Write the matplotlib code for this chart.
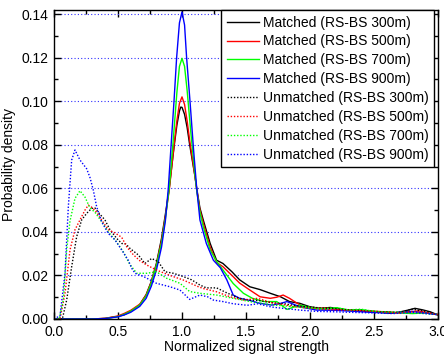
"""Probability density of normalized signal strength, matched vs unmatched RS-BS pairs."""
import matplotlib
matplotlib.use("Agg")
import matplotlib.pyplot as plt
from matplotlib.ticker import MultipleLocator

plt.rcParams["font.family"] = ["Liberation Sans", "DejaVu Sans"]
plt.rcParams["font.size"] = 10

DISTANCES = ["300m", "500m", "700m", "900m"]
COLORS = ["black", "red", "#00ff00", "blue"]

# matched curves (solid)
m300_x = [0.0, 0.3, 0.4, 0.5, 0.55, 0.6, 0.67, 0.72, 0.76, 0.8, 0.84, 0.87, 0.9, 0.92, 0.94, 0.96, 0.98, 0.99,
          1.0, 1.02, 1.04, 1.06, 1.08, 1.1, 1.115, 1.14, 1.166, 1.22, 1.27, 1.32, 1.39, 1.45, 1.53, 1.61, 1.69,
          1.77, 1.84, 1.92, 2.0, 2.08, 2.16, 2.24, 2.32, 2.4, 2.47, 2.55, 2.63, 2.7, 2.76, 2.82, 2.88, 2.94, 3.0]
m300_y = [0.0, 0.0, 0.0003, 0.0012, 0.002, 0.0036, 0.0066, 0.0112, 0.0172, 0.0255, 0.037, 0.048, 0.06, 0.07,
          0.08, 0.089, 0.0955, 0.0973, 0.0972, 0.094, 0.088, 0.08, 0.073, 0.066, 0.06, 0.051, 0.0455, 0.0347,
          0.027, 0.0255, 0.0217, 0.018, 0.0148, 0.0135, 0.0118, 0.0102, 0.008, 0.0072, 0.0056, 0.0049, 0.0053,
          0.0045, 0.0041, 0.0037, 0.0033, 0.003, 0.0026, 0.0032, 0.004, 0.0049, 0.0042, 0.0033, 0.0018]

m500_x = [0.0, 0.3, 0.4, 0.5, 0.55, 0.6, 0.67, 0.72, 0.76, 0.8, 0.84, 0.87, 0.9, 0.92, 0.94, 0.96, 0.98, 1.0,
          1.02, 1.04, 1.06, 1.08, 1.1, 1.115, 1.14, 1.166, 1.22, 1.27, 1.32, 1.39, 1.45, 1.53, 1.61, 1.69, 1.74,
          1.79, 1.84, 1.9, 1.95, 2.05, 2.12, 2.2, 2.3, 2.4, 2.5, 2.6, 2.7, 2.8, 2.85, 2.9, 3.0]
m500_y = [0.0, 0.0, 0.0003, 0.0014, 0.0026, 0.004, 0.0068, 0.011, 0.017, 0.025, 0.036, 0.047, 0.059, 0.07,
          0.081, 0.091, 0.099, 0.102, 0.0985, 0.091, 0.082, 0.074, 0.066, 0.0595, 0.05, 0.044, 0.033, 0.026,
          0.024, 0.02, 0.0165, 0.0133, 0.0102, 0.0095, 0.01, 0.011, 0.0095, 0.0072, 0.0056, 0.0049, 0.005,
          0.0045, 0.004, 0.0038, 0.0035, 0.0033, 0.0028, 0.0033, 0.0038, 0.003, 0.002]

m700_x = [0.0, 0.3, 0.4, 0.5, 0.55, 0.6, 0.67, 0.72, 0.76, 0.8, 0.84, 0.87, 0.9, 0.93, 0.96, 0.98, 1.0, 1.02,
          1.04, 1.07, 1.1, 1.115, 1.14, 1.166, 1.22, 1.27, 1.32, 1.4, 1.48, 1.55, 1.64, 1.74, 1.82, 1.92, 2.03,
          2.12, 2.21, 2.3, 2.4, 2.5, 2.6, 2.7, 2.8, 2.9, 3.0]
m700_y = [0.0, 0.0, 0.0002, 0.0011, 0.0022, 0.0036, 0.0064, 0.0105, 0.0165, 0.0245, 0.035, 0.046, 0.06,
          0.081, 0.104, 0.116, 0.1197, 0.116, 0.105, 0.085, 0.067, 0.059, 0.049, 0.0424, 0.0317, 0.0265,
          0.0225, 0.0163, 0.0118, 0.0095, 0.008, 0.008, 0.0044, 0.0064, 0.0049, 0.0045, 0.0052, 0.004, 0.0043,
          0.0035, 0.0032, 0.0028, 0.0025, 0.0028, 0.002]

m900_x = [0.0, 0.3, 0.4, 0.5, 0.55, 0.6, 0.67, 0.72, 0.76, 0.8, 0.84, 0.87, 0.893, 0.915, 0.9375, 0.958, 0.98,
          1.0, 1.02, 1.036, 1.0625, 1.09, 1.115, 1.14, 1.19, 1.245, 1.3, 1.35, 1.4, 1.45, 1.53, 1.61, 1.7,
          1.76, 1.82, 1.92, 2.05, 2.2, 2.35, 2.5, 2.65, 2.8, 2.9, 3.0]
m900_y = [0.0, 0.0, 0.0002, 0.001, 0.0019, 0.0031, 0.0058, 0.0095, 0.015, 0.0225, 0.033, 0.045, 0.06, 0.08,
          0.1, 0.12, 0.136, 0.141, 0.135, 0.12, 0.1, 0.078, 0.06, 0.0455, 0.0347, 0.027, 0.0235, 0.018, 0.011,
          0.0095, 0.0085, 0.0072, 0.0064, 0.007, 0.008, 0.0056, 0.0041, 0.004, 0.0035, 0.003, 0.0028, 0.0035,
          0.0028, 0.002]

# unmatched curves (dotted)
u300_x = [0.0, 0.065, 0.099, 0.138, 0.177, 0.216, 0.255, 0.294, 0.32, 0.346, 0.398, 0.437, 0.49, 0.529, 0.56,
          0.594, 0.659, 0.71, 0.763, 0.815, 0.867, 0.932, 1.01, 1.075, 1.14, 1.19, 1.27, 1.35, 1.45, 1.53, 1.6,
          1.7, 1.8, 1.9, 2.0, 2.1, 2.2, 2.3, 2.4, 2.5, 2.6, 2.7, 2.8, 2.9, 3.0]
u300_y = [0.0, 0.0, 0.0087, 0.024, 0.0378, 0.0455, 0.0485, 0.0508, 0.051, 0.049, 0.0455, 0.041, 0.037,
          0.0347, 0.0345, 0.0324, 0.0294, 0.0255, 0.0278, 0.0263, 0.0217, 0.021, 0.0195, 0.018, 0.0156, 0.0143,
          0.0143, 0.012, 0.0095, 0.0087, 0.0085, 0.0075, 0.007, 0.006, 0.0055, 0.005, 0.0048, 0.0042, 0.004,
          0.0035, 0.0032, 0.003, 0.0045, 0.0035, 0.002]

u500_x = [0.0, 0.047, 0.086, 0.125, 0.164, 0.203, 0.242, 0.268, 0.29, 0.32, 0.372, 0.424, 0.477, 0.529, 0.57,
          0.62, 0.67, 0.724, 0.8, 0.906, 1.01, 1.12, 1.166, 1.27, 1.375, 1.48, 1.59, 1.7, 1.8, 1.9, 2.0, 2.1,
          2.2, 2.3, 2.4, 2.5, 2.6, 2.7, 2.8, 2.9, 3.0]
u500_y = [0.0, 0.0, 0.0118, 0.0317, 0.041, 0.0455, 0.05, 0.0523, 0.0515, 0.05, 0.0455, 0.041, 0.0395,
          0.0375, 0.033, 0.0295, 0.0268, 0.0248, 0.0225, 0.02, 0.0179, 0.015, 0.014, 0.0125, 0.0102, 0.0087,
          0.0095, 0.0075, 0.0065, 0.0055, 0.005, 0.0045, 0.0042, 0.004, 0.0038, 0.0035, 0.003, 0.0028, 0.0035,
          0.003, 0.002]

u700_x = [0.0, 0.04, 0.073, 0.099, 0.125, 0.164, 0.203, 0.242, 0.281, 0.32, 0.372, 0.424, 0.477, 0.54, 0.59,
          0.646, 0.724, 0.8, 0.88, 0.984, 1.06, 1.14, 1.27, 1.4, 1.53, 1.62, 1.7, 1.8, 1.9, 2.0, 2.1, 2.2, 2.3,
          2.4, 2.5, 2.6, 2.7, 2.8, 2.9, 3.0]
u700_y = [0.0, 0.0, 0.0087, 0.0317, 0.045, 0.0554, 0.0589, 0.056, 0.051, 0.049, 0.0447, 0.04, 0.0363, 0.031,
          0.0253, 0.021, 0.021, 0.0217, 0.0187, 0.0164, 0.0126, 0.0118, 0.011, 0.0095, 0.008, 0.0072, 0.0065,
          0.006, 0.0055, 0.005, 0.0048, 0.0052, 0.0042, 0.0045, 0.0035, 0.003, 0.0032, 0.0028, 0.0025, 0.002]

u900_x = [0.0, 0.047, 0.086, 0.112, 0.138, 0.164, 0.203, 0.255, 0.281, 0.307, 0.333, 0.372, 0.424, 0.477,
          0.529, 0.58, 0.607, 0.633, 0.7, 0.8, 0.906, 0.984, 1.06, 1.14, 1.2, 1.245, 1.32, 1.4, 1.51, 1.59, 1.7,
          1.79, 1.92, 2.05, 2.2, 2.35, 2.5, 2.65, 2.8, 2.9, 3.0]
u900_y = [0.0, 0.0015, 0.021, 0.0516, 0.073, 0.0776, 0.073, 0.069, 0.065, 0.0592, 0.0516, 0.0447, 0.0393,
          0.0363, 0.0317, 0.027, 0.0233, 0.021, 0.0195, 0.0164, 0.0148, 0.0133, 0.009, 0.011, 0.0102, 0.0087,
          0.008, 0.007, 0.0063, 0.007, 0.0055, 0.0049, 0.0041, 0.0035, 0.0033, 0.003, 0.0028, 0.0025, 0.003,
          0.0025, 0.002]

MATCHED = [(m300_x, m300_y), (m500_x, m500_y), (m700_x, m700_y), (m900_x, m900_y)]
UNMATCHED = [(u300_x, u300_y), (u500_x, u500_y), (u700_x, u700_y), (u900_x, u900_y)]


def main():
    fig = plt.figure(figsize=(4.44, 3.59), dpi=100)
    ax = fig.add_axes([54 / 444, 1 - 319 / 359, 384 / 444, 309 / 359])

    for (x, y), c, d in zip(MATCHED, COLORS, DISTANCES):
        ax.plot(x, y, color=c, lw=1.0, label=f"Matched (RS-BS {d})")
    for (x, y), c, d in zip(UNMATCHED, COLORS, DISTANCES):
        ax.plot(x, y, color=c, lw=1.0, ls=(0, (1, 1.3)), label=f"Unmatched (RS-BS {d})")

    ax.set_xlim(0, 3.0)
    ax.set_ylim(0, 0.1419)
    ax.xaxis.set_major_locator(MultipleLocator(0.5))
    ax.xaxis.set_minor_locator(MultipleLocator(0.25))
    ax.yaxis.set_major_locator(MultipleLocator(0.02))
    ax.yaxis.set_minor_locator(MultipleLocator(0.01))
    ax.xaxis.set_major_formatter(lambda v, p: f"{v:.1f}")
    ax.yaxis.set_major_formatter(lambda v, p: f"{v:.2f}")
    ax.tick_params(which="both", direction="in", top=True, right=True, width=1)
    ax.tick_params(which="major", length=5, pad=4)
    ax.tick_params(which="minor", length=3)
    ax.grid(axis="y", which="major", color="#3030ff", ls=(0, (1, 2)), lw=0.8)
    for s in ax.spines.values():
        s.set_linewidth(1.0)

    ax.set_xlabel("Normalized signal strength", labelpad=1)
    ax.set_ylabel("Probability density", labelpad=4)

    leg = ax.legend(loc="upper right", bbox_to_anchor=(1 - 4 / 384, 1), borderaxespad=0,
                    fancybox=False, framealpha=1, edgecolor="black", handlelength=2.3,
                    handletextpad=0.3, labelspacing=0.35, borderpad=0.4)
    leg.get_frame().set_linewidth(1.0)

    fig.savefig("out.png", dpi=100)


if __name__ == "__main__":
    main()
